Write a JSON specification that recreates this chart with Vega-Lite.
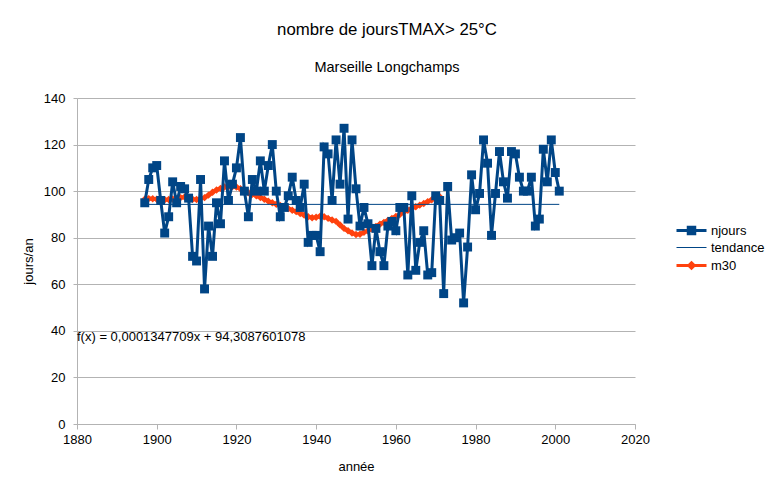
{
  "$schema": "https://vega.github.io/schema/vega-lite/v6.json",
  "width": 558,
  "height": 326,
  "autosize": {"type": "none"},
  "padding": {"left": 77, "top": 98, "right": 139, "bottom": 72},
  "background": "white",
  "config": {
    "font": "Liberation Sans",
    "view": {"stroke": null},
    "axis": {"labelFont": "Liberation Sans", "titleFont": "Liberation Sans"}
  },
  "title": {
    "text": "nombre de joursTMAX> 25°C",
    "subtitle": "Marseille Longchamps",
    "font": "Liberation Sans",
    "subtitleFont": "Liberation Sans",
    "fontSize": 16.8,
    "subtitleFontSize": 14.5,
    "fontWeight": "normal",
    "color": "black",
    "subtitleColor": "black",
    "anchor": "middle",
    "dx": 31,
    "offset": 18,
    "subtitlePadding": 22
  },
  "datasets": {
    "series": [
      {"annee": 1897, "valeur": 95, "serie": "njours"},
      {"annee": 1898, "valeur": 105, "serie": "njours"},
      {"annee": 1899, "valeur": 110, "serie": "njours"},
      {"annee": 1900, "valeur": 111, "serie": "njours"},
      {"annee": 1901, "valeur": 96, "serie": "njours"},
      {"annee": 1902, "valeur": 82, "serie": "njours"},
      {"annee": 1903, "valeur": 89, "serie": "njours"},
      {"annee": 1904, "valeur": 104, "serie": "njours"},
      {"annee": 1905, "valeur": 95, "serie": "njours"},
      {"annee": 1906, "valeur": 102, "serie": "njours"},
      {"annee": 1907, "valeur": 101, "serie": "njours"},
      {"annee": 1908, "valeur": 97, "serie": "njours"},
      {"annee": 1909, "valeur": 72, "serie": "njours"},
      {"annee": 1910, "valeur": 70, "serie": "njours"},
      {"annee": 1911, "valeur": 105, "serie": "njours"},
      {"annee": 1912, "valeur": 58, "serie": "njours"},
      {"annee": 1913, "valeur": 85, "serie": "njours"},
      {"annee": 1914, "valeur": 72, "serie": "njours"},
      {"annee": 1915, "valeur": 95, "serie": "njours"},
      {"annee": 1916, "valeur": 86, "serie": "njours"},
      {"annee": 1917, "valeur": 113, "serie": "njours"},
      {"annee": 1918, "valeur": 96, "serie": "njours"},
      {"annee": 1919, "valeur": 103, "serie": "njours"},
      {"annee": 1920, "valeur": 110, "serie": "njours"},
      {"annee": 1921, "valeur": 123, "serie": "njours"},
      {"annee": 1922, "valeur": 100, "serie": "njours"},
      {"annee": 1923, "valeur": 89, "serie": "njours"},
      {"annee": 1924, "valeur": 105, "serie": "njours"},
      {"annee": 1925, "valeur": 100, "serie": "njours"},
      {"annee": 1926, "valeur": 113, "serie": "njours"},
      {"annee": 1927, "valeur": 100, "serie": "njours"},
      {"annee": 1928, "valeur": 111, "serie": "njours"},
      {"annee": 1929, "valeur": 120, "serie": "njours"},
      {"annee": 1930, "valeur": 100, "serie": "njours"},
      {"annee": 1931, "valeur": 89, "serie": "njours"},
      {"annee": 1932, "valeur": 93, "serie": "njours"},
      {"annee": 1933, "valeur": 98, "serie": "njours"},
      {"annee": 1934, "valeur": 106, "serie": "njours"},
      {"annee": 1935, "valeur": 96, "serie": "njours"},
      {"annee": 1936, "valeur": 93, "serie": "njours"},
      {"annee": 1937, "valeur": 103, "serie": "njours"},
      {"annee": 1938, "valeur": 78, "serie": "njours"},
      {"annee": 1939, "valeur": 81, "serie": "njours"},
      {"annee": 1940, "valeur": 81, "serie": "njours"},
      {"annee": 1941, "valeur": 74, "serie": "njours"},
      {"annee": 1942, "valeur": 119, "serie": "njours"},
      {"annee": 1943, "valeur": 116, "serie": "njours"},
      {"annee": 1944, "valeur": 96, "serie": "njours"},
      {"annee": 1945, "valeur": 122, "serie": "njours"},
      {"annee": 1946, "valeur": 103, "serie": "njours"},
      {"annee": 1947, "valeur": 127, "serie": "njours"},
      {"annee": 1948, "valeur": 88, "serie": "njours"},
      {"annee": 1949, "valeur": 122, "serie": "njours"},
      {"annee": 1950, "valeur": 101, "serie": "njours"},
      {"annee": 1951, "valeur": 85, "serie": "njours"},
      {"annee": 1952, "valeur": 93, "serie": "njours"},
      {"annee": 1953, "valeur": 86, "serie": "njours"},
      {"annee": 1954, "valeur": 68, "serie": "njours"},
      {"annee": 1955, "valeur": 84, "serie": "njours"},
      {"annee": 1956, "valeur": 74, "serie": "njours"},
      {"annee": 1957, "valeur": 68, "serie": "njours"},
      {"annee": 1958, "valeur": 85, "serie": "njours"},
      {"annee": 1959, "valeur": 87, "serie": "njours"},
      {"annee": 1960, "valeur": 83, "serie": "njours"},
      {"annee": 1961, "valeur": 93, "serie": "njours"},
      {"annee": 1962, "valeur": 93, "serie": "njours"},
      {"annee": 1963, "valeur": 64, "serie": "njours"},
      {"annee": 1964, "valeur": 98, "serie": "njours"},
      {"annee": 1965, "valeur": 66, "serie": "njours"},
      {"annee": 1966, "valeur": 78, "serie": "njours"},
      {"annee": 1967, "valeur": 83, "serie": "njours"},
      {"annee": 1968, "valeur": 64, "serie": "njours"},
      {"annee": 1969, "valeur": 65, "serie": "njours"},
      {"annee": 1970, "valeur": 98, "serie": "njours"},
      {"annee": 1971, "valeur": 96, "serie": "njours"},
      {"annee": 1972, "valeur": 56, "serie": "njours"},
      {"annee": 1973, "valeur": 102, "serie": "njours"},
      {"annee": 1974, "valeur": 79, "serie": "njours"},
      {"annee": 1975, "valeur": 80, "serie": "njours"},
      {"annee": 1976, "valeur": 82, "serie": "njours"},
      {"annee": 1977, "valeur": 52, "serie": "njours"},
      {"annee": 1978, "valeur": 76, "serie": "njours"},
      {"annee": 1979, "valeur": 107, "serie": "njours"},
      {"annee": 1980, "valeur": 92, "serie": "njours"},
      {"annee": 1981, "valeur": 99, "serie": "njours"},
      {"annee": 1982, "valeur": 122, "serie": "njours"},
      {"annee": 1983, "valeur": 112, "serie": "njours"},
      {"annee": 1984, "valeur": 81, "serie": "njours"},
      {"annee": 1985, "valeur": 99, "serie": "njours"},
      {"annee": 1986, "valeur": 117, "serie": "njours"},
      {"annee": 1987, "valeur": 104, "serie": "njours"},
      {"annee": 1988, "valeur": 97, "serie": "njours"},
      {"annee": 1989, "valeur": 117, "serie": "njours"},
      {"annee": 1990, "valeur": 116, "serie": "njours"},
      {"annee": 1991, "valeur": 106, "serie": "njours"},
      {"annee": 1992, "valeur": 100, "serie": "njours"},
      {"annee": 1993, "valeur": 100, "serie": "njours"},
      {"annee": 1994, "valeur": 106, "serie": "njours"},
      {"annee": 1995, "valeur": 85, "serie": "njours"},
      {"annee": 1996, "valeur": 88, "serie": "njours"},
      {"annee": 1997, "valeur": 118, "serie": "njours"},
      {"annee": 1998, "valeur": 104, "serie": "njours"},
      {"annee": 1999, "valeur": 122, "serie": "njours"},
      {"annee": 2000, "valeur": 108, "serie": "njours"},
      {"annee": 2001, "valeur": 100, "serie": "njours"},
      {"annee": 1897, "valeur": 94.309, "serie": "tendance"},
      {"annee": 2001, "valeur": 94.323, "serie": "tendance"},
      {"annee": 1897, "valeur": 96.5, "serie": "m30"},
      {"annee": 1898, "valeur": 96.8, "serie": "m30"},
      {"annee": 1899, "valeur": 96.7, "serie": "m30"},
      {"annee": 1900, "valeur": 96.5, "serie": "m30"},
      {"annee": 1901, "valeur": 96.3, "serie": "m30"},
      {"annee": 1902, "valeur": 96.3, "serie": "m30"},
      {"annee": 1903, "valeur": 96.4, "serie": "m30"},
      {"annee": 1904, "valeur": 96.6, "serie": "m30"},
      {"annee": 1905, "valeur": 96.8, "serie": "m30"},
      {"annee": 1906, "valeur": 97.2, "serie": "m30"},
      {"annee": 1907, "valeur": 97.5, "serie": "m30"},
      {"annee": 1908, "valeur": 97.0, "serie": "m30"},
      {"annee": 1909, "valeur": 96.5, "serie": "m30"},
      {"annee": 1910, "valeur": 96.4, "serie": "m30"},
      {"annee": 1911, "valeur": 96.8, "serie": "m30"},
      {"annee": 1912, "valeur": 97.2, "serie": "m30"},
      {"annee": 1913, "valeur": 98.3, "serie": "m30"},
      {"annee": 1914, "valeur": 99.5, "serie": "m30"},
      {"annee": 1915, "valeur": 100.5, "serie": "m30"},
      {"annee": 1916, "valeur": 101.2, "serie": "m30"},
      {"annee": 1917, "valeur": 101.8, "serie": "m30"},
      {"annee": 1918, "valeur": 102.0, "serie": "m30"},
      {"annee": 1919, "valeur": 102.0, "serie": "m30"},
      {"annee": 1920, "valeur": 101.8, "serie": "m30"},
      {"annee": 1921, "valeur": 101.0, "serie": "m30"},
      {"annee": 1922, "valeur": 100.0, "serie": "m30"},
      {"annee": 1923, "valeur": 99.3, "serie": "m30"},
      {"annee": 1924, "valeur": 98.6, "serie": "m30"},
      {"annee": 1925, "valeur": 98.0, "serie": "m30"},
      {"annee": 1926, "valeur": 97.3, "serie": "m30"},
      {"annee": 1927, "valeur": 96.5, "serie": "m30"},
      {"annee": 1928, "valeur": 95.7, "serie": "m30"},
      {"annee": 1929, "valeur": 95.0, "serie": "m30"},
      {"annee": 1930, "valeur": 94.4, "serie": "m30"},
      {"annee": 1931, "valeur": 93.8, "serie": "m30"},
      {"annee": 1932, "valeur": 93.1, "serie": "m30"},
      {"annee": 1933, "valeur": 92.5, "serie": "m30"},
      {"annee": 1934, "valeur": 91.8, "serie": "m30"},
      {"annee": 1935, "valeur": 91.2, "serie": "m30"},
      {"annee": 1936, "valeur": 90.4, "serie": "m30"},
      {"annee": 1937, "valeur": 89.7, "serie": "m30"},
      {"annee": 1938, "valeur": 89.0, "serie": "m30"},
      {"annee": 1939, "valeur": 88.6, "serie": "m30"},
      {"annee": 1940, "valeur": 88.8, "serie": "m30"},
      {"annee": 1941, "valeur": 89.2, "serie": "m30"},
      {"annee": 1942, "valeur": 89.0, "serie": "m30"},
      {"annee": 1943, "valeur": 88.3, "serie": "m30"},
      {"annee": 1944, "valeur": 87.6, "serie": "m30"},
      {"annee": 1945, "valeur": 87.0, "serie": "m30"},
      {"annee": 1946, "valeur": 85.5, "serie": "m30"},
      {"annee": 1947, "valeur": 84.0, "serie": "m30"},
      {"annee": 1948, "valeur": 83.0, "serie": "m30"},
      {"annee": 1949, "valeur": 82.0, "serie": "m30"},
      {"annee": 1950, "valeur": 81.4, "serie": "m30"},
      {"annee": 1951, "valeur": 81.5, "serie": "m30"},
      {"annee": 1952, "valeur": 82.3, "serie": "m30"},
      {"annee": 1953, "valeur": 83.0, "serie": "m30"},
      {"annee": 1954, "valeur": 83.8, "serie": "m30"},
      {"annee": 1955, "valeur": 84.8, "serie": "m30"},
      {"annee": 1956, "valeur": 85.8, "serie": "m30"},
      {"annee": 1957, "valeur": 86.6, "serie": "m30"},
      {"annee": 1958, "valeur": 87.4, "serie": "m30"},
      {"annee": 1959, "valeur": 88.3, "serie": "m30"},
      {"annee": 1960, "valeur": 89.1, "serie": "m30"},
      {"annee": 1961, "valeur": 90.0, "serie": "m30"},
      {"annee": 1962, "valeur": 91.0, "serie": "m30"},
      {"annee": 1963, "valeur": 91.8, "serie": "m30"},
      {"annee": 1964, "valeur": 92.6, "serie": "m30"},
      {"annee": 1965, "valeur": 93.3, "serie": "m30"},
      {"annee": 1966, "valeur": 94.0, "serie": "m30"},
      {"annee": 1967, "valeur": 94.7, "serie": "m30"},
      {"annee": 1968, "valeur": 95.5, "serie": "m30"},
      {"annee": 1969, "valeur": 96.3, "serie": "m30"},
      {"annee": 1970, "valeur": 97.0, "serie": "m30"},
      {"annee": 1971, "valeur": 97.6, "serie": "m30"}
    ],
    "equation": [
      {"texte": "f(x) = 0,0001347709x + 94,3087601078"}
    ]
  },
  "layer": [
    {
      "data": {"name": "series"},
      "encoding": {
        "x": {
          "field": "annee",
          "type": "quantitative",
          "scale": {"domain": [1880, 2020], "nice": false, "zero": false},
          "axis": {
            "values": [1880, 1900, 1920, 1940, 1960, 1980, 2000, 2020],
            "format": "d",
            "grid": false,
            "domainColor": "#b3b3b3",
            "tickColor": "#b3b3b3",
            "tickSize": 5,
            "labelFontSize": 13,
            "labelColor": "black",
            "labelPadding": 4,
            "labelFlush": false,
            "labelOverlap": false,
            "title": "année",
            "titleFontSize": 13,
            "titleFontWeight": "normal",
            "titleColor": "black",
            "titlePadding": 14
          }
        },
        "y": {
          "field": "valeur",
          "type": "quantitative",
          "scale": {"domain": [0, 140], "nice": false},
          "axis": {
            "values": [0, 20, 40, 60, 80, 100, 120, 140],
            "grid": true,
            "gridColor": "#b3b3b3",
            "domainColor": "#b3b3b3",
            "tickColor": "#b3b3b3",
            "tickSize": 4,
            "labelFontSize": 13,
            "labelColor": "black",
            "labelPadding": 8,
            "title": "jours/an",
            "titleFontSize": 13,
            "titleFontWeight": "normal",
            "titleColor": "black",
            "titlePadding": 8
          }
        },
        "color": {
          "field": "serie",
          "type": "nominal",
          "scale": {"domain": ["njours", "tendance", "m30"], "range": ["#004586", "#004586", "#ff420e"]},
          "legend": {
            "orient": "none",
            "legendX": 608,
            "legendY": 126,
            "title": null,
            "padding": 0,
            "labelFont": "Liberation Sans",
            "labelFontSize": 13,
            "labelColor": "black",
            "symbolSize": 100,
            "labelOffset": 13,
            "rowPadding": 1,
            "encode": {
              "symbols": {
                "update": {
                  "shape": {"signal": "datum.value === 'njours' ? 'M-3,0H3M-0.65,-0.65H0.65V0.65H-0.65Z' : (datum.value === 'm30' ? 'M-3,0H3M0,-0.55L0.55,0L0,0.55L-0.55,0Z' : 'M-3,0H3')"},
                  "strokeWidth": {"signal": "datum.value === 'tendance' ? 1 : 3"},
                  "fill": {"signal": "datum.value === 'm30' ? '#ff420e' : '#004586'"},
                  "stroke": {"signal": "datum.value === 'm30' ? '#ff420e' : '#004586'"},
                  "fillOpacity": {"value": 1},
                  "opacity": {"value": 1}
                }
              }
            }
          }
        }
      },
      "layer": [
        {
          "transform": [{"filter": "datum.serie === 'm30'"}],
          "mark": {"type": "line", "strokeWidth": 4},
          "encoding": {}
        },
        {
          "transform": [{"filter": "datum.serie === 'm30'"}],
          "mark": {"type": "point", "shape": "diamond", "size": 55, "filled": true, "opacity": 1},
          "encoding": {}
        },
        {
          "transform": [{"filter": "datum.serie === 'tendance'"}],
          "mark": {"type": "line", "strokeWidth": 1},
          "encoding": {}
        },
        {
          "transform": [{"filter": "datum.serie === 'njours'"}],
          "mark": {"type": "line", "strokeWidth": 3},
          "encoding": {}
        },
        {
          "transform": [{"filter": "datum.serie === 'njours'"}],
          "mark": {"type": "point", "shape": "square", "size": 80, "filled": true, "opacity": 1},
          "encoding": {}
        }
      ]
    },
    {
      "data": {"name": "equation"},
      "mark": {"type": "text", "align": "left", "baseline": "middle", "fontSize": 13, "font": "Liberation Sans", "color": "black", "dx": 0},
      "encoding": {
        "x": {"datum": 1880, "type": "quantitative"},
        "y": {"datum": 37.5, "type": "quantitative"},
        "text": {"field": "texte", "type": "nominal"}
      }
    }
  ]
}
